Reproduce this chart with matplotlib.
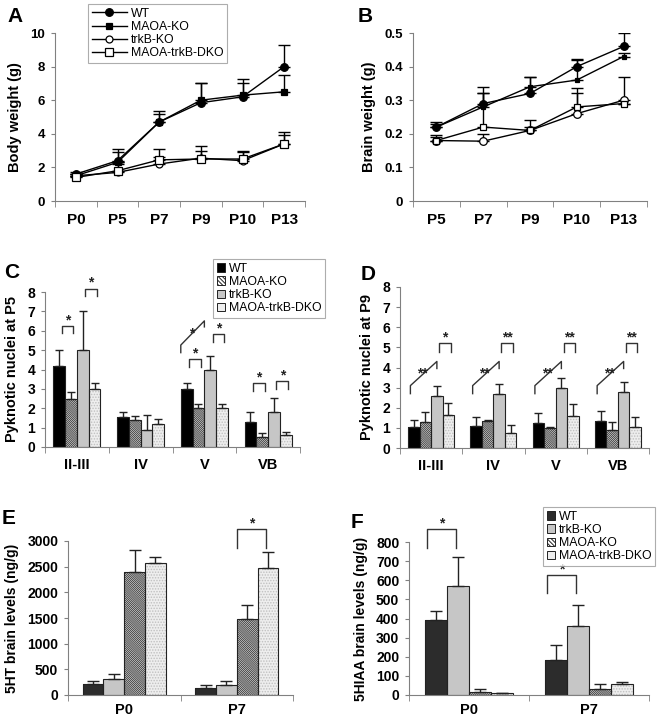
import matplotlib
matplotlib.use('Agg')
import matplotlib.pyplot as plt
import numpy as np
from matplotlib.patches import Patch

plt.rcParams['font.family'] = ['Liberation Sans', 'DejaVu Sans']
plt.rcParams['hatch.linewidth'] = 0.7

# ---------------- data ----------------
A_days = ['P0', 'P5', 'P7', 'P9', 'P10', 'P13']
A_wt = [1.6, 2.4, 4.7, 5.85, 6.2, 8.0]
A_wt_err = [0.1, 0.7, 0.65, 1.2, 1.05, 1.3]
A_maoa = [1.5, 2.3, 4.7, 6.0, 6.3, 6.5]
A_maoa_err = [0.1, 0.6, 0.5, 1.05, 0.75, 1.0]
A_trkb = [1.5, 1.7, 2.2, 2.55, 2.4, 3.4]
A_trkb_err = [0.1, 0.5, 0.4, 0.75, 0.5, 0.7]
A_dko = [1.4, 1.8, 2.45, 2.5, 2.5, 3.4]
A_dko_err = [0.1, 0.5, 0.65, 0.5, 0.5, 0.55]

B_days = ['P5', 'P7', 'P9', 'P10', 'P13']
B_wt = [0.22, 0.29, 0.32, 0.40, 0.46]
B_wt_err = [0.015, 0.05, 0.05, 0.022, 0.04]
B_maoa = [0.22, 0.28, 0.34, 0.36, 0.43]
B_maoa_err = [0.01, 0.04, 0.03, 0.06, 0.01]
B_trkb = [0.18, 0.178, 0.21, 0.26, 0.30]
B_trkb_err = [0.017, 0.02, 0.01, 0.06, 0.07]
B_dko = [0.18, 0.22, 0.21, 0.28, 0.29]
B_dko_err = [0.01, 0.10, 0.03, 0.055, 0.0]

C_layers = ['II-III', 'IV', 'V', 'VB']
C_wt = [4.2, 1.55, 3.0, 1.3]
C_wt_err = [0.8, 0.25, 0.3, 0.5]
C_maoa = [2.5, 1.4, 2.0, 0.5]
C_maoa_err = [0.35, 0.2, 0.2, 0.2]
C_trkb = [5.0, 0.9, 4.0, 1.8]
C_trkb_err = [2.0, 0.75, 0.7, 0.75]
C_dko = [3.0, 1.2, 2.0, 0.6]
C_dko_err = [0.3, 0.25, 0.2, 0.2]

D_layers = ['II-III', 'IV', 'V', 'VB']
D_wt = [1.05, 1.1, 1.25, 1.35]
D_wt_err = [0.35, 0.45, 0.5, 0.5]
D_maoa = [1.3, 1.35, 1.0, 0.9]
D_maoa_err = [0.5, 0.05, 0.02, 0.4]
D_trkb = [2.6, 2.7, 3.0, 2.8]
D_trkb_err = [0.5, 0.5, 0.5, 0.5]
D_dko = [1.65, 0.75, 1.6, 1.05]
D_dko_err = [0.6, 0.4, 0.6, 0.5]

E_ages = ['P0', 'P7']
E_wt = [220, 130]
E_wt_err = [50, 70]
E_trkb = [310, 200]
E_trkb_err = [90, 70]
E_maoa = [2400, 1490]
E_maoa_err = [420, 270]
E_dko = [2580, 2470]
E_dko_err = [110, 310]

F_ages = ['P0', 'P7']
F_wt = [390, 185]
F_wt_err = [50, 75]
F_trkb = [570, 360]
F_trkb_err = [150, 110]
F_maoa = [15, 30]
F_maoa_err = [15, 25]
F_dko = [12, 55]
F_dko_err = [0, 15]

LINE_LABELS = ['WT', 'MAOA-KO', 'trkB-KO', 'MAOA-trkB-DKO']

# ---------------- helpers ----------------
W, H = 667, 719
fig = plt.figure(figsize=(W / 100, H / 100), dpi=100)
fig.patch.set_facecolor('white')


def axes_px(l, t, r, b):
    return fig.add_axes([l / W, 1 - b / H, (r - l) / W, (b - t) / H])


def style(ax, n, xpad, xsize=11, ysize=9.5):
    for s in ['top', 'right']:
        ax.spines[s].set_visible(False)
    for s in ['left', 'bottom']:
        ax.spines[s].set_color('#808080')
        ax.spines[s].set_linewidth(0.8)
    ax.set_xlim(-0.5, n - 0.5)
    ax.set_xticks(np.arange(n))
    ax.set_xticks(np.arange(n + 1) - 0.5, minor=True)
    ax.tick_params(axis='x', which='major', length=0, pad=xpad, labelsize=xsize)
    ax.tick_params(axis='x', which='minor', length=4, color='#808080', direction='out')
    ax.tick_params(axis='y', which='major', length=3, color='#808080', direction='out',
                   labelsize=ysize, pad=4)
    for lab in ax.get_xticklabels() + ax.get_yticklabels():
        lab.set_fontweight('bold')


def panel_label(x, y, s):
    fig.text(x / W, 1 - y / H, s, fontsize=15, fontweight='bold', ha='center', va='center')


HATCH_MAOA = '\\' * 16
SPEC_CD = {
    'WT': dict(face='#000000', hatch=None, hc=None),
    'MAOA-KO': dict(face='#ffffff', hatch=HATCH_MAOA, hc='#404040'),
    'trkB-KO': dict(face='#c6c6c6', hatch=None, hc=None),
    'MAOA-trkB-DKO': dict(face='#eeeeee', hatch='......', hc='#c0c0c0'),
}
SPEC_EF = dict(SPEC_CD)
SPEC_EF['WT'] = dict(face='#2c2c2c', hatch=None, hc=None)


def draw_bars(ax, groups, series, spec, capsize=3):
    x = np.arange(len(groups))
    w = 0.185
    centers = []
    for i, (name, vals, errs) in enumerate(series):
        xs = x + (i - 1.5) * w
        centers.append(xs)
        sp = spec[name]
        if sp['hatch']:
            ax.bar(xs, vals, w, color=sp['face'], hatch=sp['hatch'], edgecolor=sp['hc'],
                   linewidth=0, zorder=2)
        else:
            ax.bar(xs, vals, w, color=sp['face'], linewidth=0, zorder=2)
        ax.bar(xs, vals, w, fill=False, edgecolor='#222222', linewidth=0.8, zorder=3)
        ax.errorbar(xs, vals, yerr=[np.zeros(len(vals)), errs], fmt='none', ecolor='#222222',
                    elinewidth=1, capsize=capsize, capthick=1, zorder=4)
    ax.set_xticklabels(groups)
    return np.array(centers), w


def bracket(ax, x1, x2, ytop, ybot, text, fs=10, toff=0.0):
    ax.plot([x1, x1, x2, x2], [ybot, ytop, ytop, ybot], color='#333333', lw=1, clip_on=False)
    ax.text((x1 + x2) / 2, ytop + toff, text, ha='center', va='center', fontsize=fs,
            fontweight='bold', clip_on=False, color='#222222')


def slant(ax, x1, x2, yb1, yt1, yt2, yb2, text, fs=10):
    ax.plot([x1, x1, x2, x2], [yb1, yt1, yt2, yb2], color='#333333', lw=1, clip_on=False)
    ax.text((x1 + x2) / 2 - 0.02, (yt1 + yt2) / 2, text, ha='center', va='center', fontsize=fs,
            fontweight='bold', clip_on=False, color='#222222')


# ---------------- Panel A ----------------
axA = axes_px(55, 33, 305, 201)
xA = np.arange(len(A_days))
line_specs = [
    (A_wt, A_wt_err, dict(marker='o', mfc='black', ms=5.5)),
    (A_maoa, A_maoa_err, dict(marker='s', mfc='black', ms=5)),
    (A_trkb, A_trkb_err, dict(marker='o', mfc='white', ms=5)),
    (A_dko, A_dko_err, dict(marker='s', mfc='white', ms=5.5)),
]
handlesA = []
for (vals, errs, mk), lab in zip(line_specs, LINE_LABELS):
    axA.errorbar(xA, vals, yerr=[np.zeros(len(vals)), errs], fmt='none', ecolor='black',
                 elinewidth=1, capsize=4, capthick=1, zorder=2)
    ln, = axA.plot(xA, vals, color='black', lw=1, mec='black', mew=0.9, zorder=3, label=lab, **mk)
    handlesA.append(ln)
axA.set_ylim(0, 10)
axA.set_yticks([0, 2, 4, 6, 8, 10])
axA.set_xticklabels(A_days)
axA.set_ylabel('Body weight (g)', fontsize=10.5, fontweight='bold', labelpad=6)
style(axA, len(A_days), xpad=9)
legA = fig.legend(handles=handlesA, labels=LINE_LABELS, loc='upper left',
                  bbox_to_anchor=(88 / W, 1 - 4 / H), fontsize=8.8, frameon=True,
                  fancybox=False, edgecolor='#999999', handlelength=2.9, handletextpad=0.3,
                  labelspacing=0.1, borderpad=0.3, borderaxespad=0)
legA.get_frame().set_linewidth(0.8)

# ---------------- Panel B ----------------
axB = axes_px(413, 33, 647, 201)
xB = np.arange(len(B_days))
line_specs_B = [
    (B_wt, B_wt_err, dict(marker='o', mfc='black', ms=5.5)),
    (B_maoa, B_maoa_err, dict(marker='s', mfc='black', ms=3.5)),
    (B_trkb, B_trkb_err, dict(marker='o', mfc='white', ms=5.5)),
    (B_dko, B_dko_err, dict(marker='s', mfc='white', ms=5)),
]
for vals, errs, mk in line_specs_B:
    axB.errorbar(xB, vals, yerr=[np.zeros(len(vals)), errs], fmt='none', ecolor='black',
                 elinewidth=1, capsize=4, capthick=1, zorder=2)
    axB.plot(xB, vals, color='black', lw=1, mec='black', mew=0.9, zorder=3, **mk)
axB.set_ylim(0, 0.5)
axB.set_yticks([0, 0.1, 0.2, 0.3, 0.4, 0.5])
axB.set_yticklabels(['0', '0.1', '0.2', '0.3', '0.4', '0.5'])
axB.set_xticklabels(B_days)
axB.set_ylabel('Brain weight (g)', fontsize=10.5, fontweight='bold', labelpad=6)
style(axB, len(B_days), xpad=9)

# ---------------- Panel C ----------------
axC = axes_px(45, 292, 300, 447)
cC, w = draw_bars(axC, C_layers, [('WT', C_wt, C_wt_err), ('MAOA-KO', C_maoa, C_maoa_err),
                                  ('trkB-KO', C_trkb, C_trkb_err),
                                  ('MAOA-trkB-DKO', C_dko, C_dko_err)], SPEC_CD, capsize=3)
axC.set_ylim(0, 8)
axC.set_yticks(range(9))
axC.set_ylabel('Pyknotic nuclei at P5', fontsize=10.5, fontweight='bold', labelpad=6)
style(axC, len(C_layers), xpad=8, xsize=10.5, ysize=10)
bracket(axC, cC[0][0] + 0.2 * w, cC[1][0] + 0.2 * w, 6.25, 5.9, '*', toff=0.3)
bracket(axC, cC[2][0] + 0.2 * w, cC[3][0] + 0.2 * w, 8.17, 7.8, '*', toff=0.3)
bracket(axC, cC[0][2] + 0.2 * w, cC[1][2] + 0.2 * w, 4.52, 4.11, '*', toff=0.3)
bracket(axC, cC[2][2] + 0.2 * w, cC[3][2] + 0.2 * w, 5.81, 5.4, '*', toff=0.3)
bracket(axC, cC[0][3] + 0.2 * w, cC[1][3] + 0.2 * w, 3.29, 2.9, '*', toff=0.3)
bracket(axC, cC[2][3] + 0.2 * w, cC[3][3] + 0.2 * w, 3.4, 3.0, '*', toff=0.3)
slant(axC, cC[0][2] - 0.5 * w, cC[1][2] + 0.5 * w, 4.87, 5.26, 6.51, 6.2, '*')

LEG_HATCH = '\\' * 8
cd_handles = [Patch(facecolor=SPEC_CD[n]['face'], edgecolor='#222222',
                    hatch=(LEG_HATCH if n == 'MAOA-KO' else None), linewidth=0.7)
              for n in LINE_LABELS]
legC = fig.legend(handles=cd_handles, labels=LINE_LABELS, loc='upper left',
                  bbox_to_anchor=(213 / W, 1 - 259 / H), fontsize=8.8, frameon=True,
                  fancybox=False, edgecolor='#999999', handlelength=0.7, handleheight=0.7,
                  handletextpad=0.3, labelspacing=0.1, borderpad=0.3, borderaxespad=0)
legC.get_frame().set_linewidth(0.8)

# ---------------- Panel D ----------------
axD = axes_px(400, 287, 649, 448)
cD, w = draw_bars(axD, D_layers, [('WT', D_wt, D_wt_err), ('MAOA-KO', D_maoa, D_maoa_err),
                                  ('trkB-KO', D_trkb, D_trkb_err),
                                  ('MAOA-trkB-DKO', D_dko, D_dko_err)], SPEC_CD, capsize=3)
axD.set_ylim(0, 8)
axD.set_yticks(range(9))
axD.set_ylabel('Pyknotic nuclei at P9', fontsize=10.5, fontweight='bold', labelpad=6)
style(axD, len(D_layers), xpad=8, xsize=10.5, ysize=10)
for j, st in enumerate(['*', '**', '**', '**']):
    slant(axD, cD[0][j] - 0.3 * w, cD[2][j], 2.7, 3.1, 4.3, 3.95, '**')
    bracket(axD, cD[2][j] + 0.2 * w, cD[3][j] + 0.2 * w, 5.21, 4.75, st, toff=0.3)

# ---------------- Panel E ----------------
axE = axes_px(68, 541, 293, 695)
cE, w = draw_bars(axE, E_ages, [('WT', E_wt, E_wt_err), ('trkB-KO', E_trkb, E_trkb_err),
                                ('MAOA-KO', E_maoa, E_maoa_err),
                                ('MAOA-trkB-DKO', E_dko, E_dko_err)], SPEC_EF, capsize=4)
axE.set_ylim(0, 3000)
axE.set_yticks(range(0, 3001, 500))
axE.set_ylabel('5HT brain levels (ng/g)', fontsize=10, fontweight='bold', labelpad=6)
style(axE, len(E_ages), xpad=6, xsize=10.5, ysize=10)
bracket(axE, cE[2][1] - 0.5 * w, cE[3][1] - 0.1 * w, 3234, 2864, '*', toff=110)

# ---------------- Panel F ----------------
axF = axes_px(409, 542, 649, 695)
cF, w = draw_bars(axF, F_ages, [('WT', F_wt, F_wt_err), ('trkB-KO', F_trkb, F_trkb_err),
                                ('MAOA-KO', F_maoa, F_maoa_err),
                                ('MAOA-trkB-DKO', F_dko, F_dko_err)], SPEC_EF, capsize=4)
axF.set_ylim(0, 800)
axF.set_yticks(range(0, 801, 100))
axF.set_ylabel('5HIAA brain levels (ng/g)', fontsize=10, fontweight='bold', labelpad=6)
style(axF, len(F_ages), xpad=6, xsize=10.5, ysize=10)
bracket(axF, cF[0][0] - 0.4 * w, cF[1][0] - 0.1 * w, 868, 768, '*', toff=30)
bracket(axF, cF[0][1] - 0.4 * w, cF[1][1] - 0.1 * w, 627, 533, '*', toff=30)

F_order = ['WT', 'trkB-KO', 'MAOA-KO', 'MAOA-trkB-DKO']
ef_handles = [Patch(facecolor=SPEC_EF[n]['face'], edgecolor='#222222',
                    hatch=(LEG_HATCH if n == 'MAOA-KO' else None), linewidth=0.7)
              for n in F_order]
legF = fig.legend(handles=ef_handles, labels=F_order, loc='upper left',
                  bbox_to_anchor=(543 / W, 1 - 507 / H), fontsize=8.8, frameon=True,
                  fancybox=False, edgecolor='#999999', handlelength=0.7, handleheight=0.7,
                  handletextpad=0.3, labelspacing=0.1, borderpad=0.3, borderaxespad=0)
legF.get_frame().set_linewidth(0.8)

# ---------------- panel letters ----------------
panel_label(15, 16, 'A')
panel_label(365, 17, 'B')
panel_label(12, 273, 'C')
panel_label(368, 275, 'D')
panel_label(9, 519, 'E')
panel_label(357, 522, 'F')

fig.savefig('out.png', dpi=100)
